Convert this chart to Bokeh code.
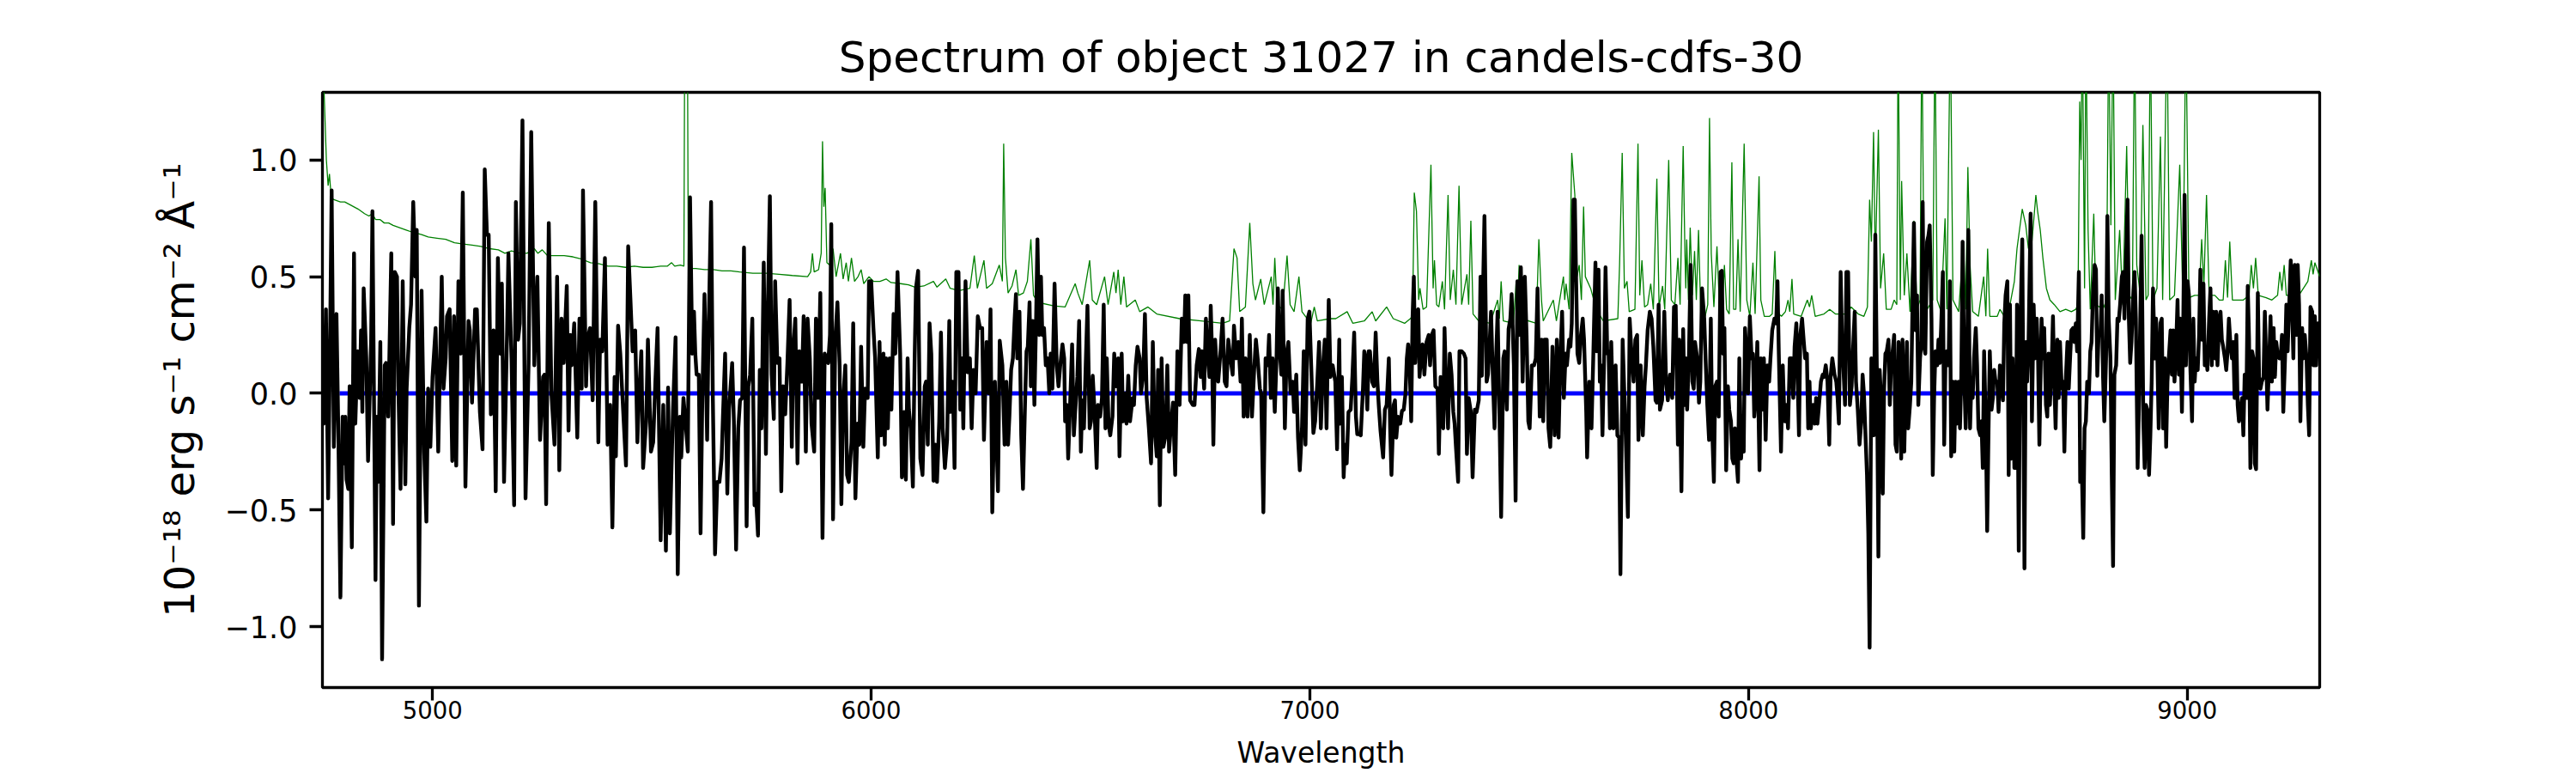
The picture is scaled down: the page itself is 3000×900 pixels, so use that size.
from bokeh.plotting import figure
from bokeh.models import Range1d, FixedTicker, CustomJSTickFormatter
from bokeh.embed import file_html
from bokeh.resources import INLINE

# ---------------- data ----------------
TITLE = "Spectrum of object 31027 in candels-cdfs-30"
X_LABEL = "Wavelength"
Y_LABEL = "10\u207b\u00b9\u2078 erg s\u207b\u00b9 cm\u207b\u00b2 \u00c5\u207b\u00b9"
x_ticks = [5000, 6000, 7000, 8000, 9000]
y_ticks = [-1.0, -0.5, 0.0, 0.5, 1.0]
wave_min, wave_max = 4749, 9302
flux_min, flux_max = -1.261, 1.290

# observed flux (black)
wave = [
    4749,4752,4757,4762,4766,4770,4775,4781,4785,4790,
    4795,4798,4801,4804,4808,4811,4816,4821,4824,4829,
    4834,4837,4840,4843,4849,4853,4860,4863,4870,4873,
    4876,4881,4885,4891,4894,4899,4906,4910,4914,4919,
    4922,4927,4932,4938,4941,4947,4951,4956,4961,4964,
    4969,4975,4981,4986,4990,4995,5000,5007,5013,5021,
    5025,5030,5033,5039,5045,5049,5054,5059,5064,5069,
    5075,5082,5085,5090,5097,5101,5108,5114,5119,5124,
    5128,5133,5139,5144,5149,5154,5158,5163,5170,5173,
    5180,5186,5190,5195,5199,5205,5212,5219,5225,5232,
    5239,5245,5252,5255,5259,5265,5271,5278,5284,5289,
    5294,5299,5306,5310,5314,5317,5323,5330,5335,5340,
    5343,5350,5353,5359,5365,5371,5378,5382,5387,5393,
    5399,5405,5410,5415,5418,5423,5428,5432,5441,5446,
    5451,5456,5462,5467,5470,5476,5480,5487,5491,5498,
    5503,5508,5513,5520,
    5526,5532,5537,5541,5548,5554,5559,5564,5567,5572,
    5577,5582,5587,5592,5596,5599,5602,5607,5611,5615,
    5620,5626,5629,5635,5639,5644,5649,5654,5659,5662,
    5667,5672,5676,5683,5687,5692,5697,5701,5706,5710,
    5716,5720,5724,5729,5734,5737,5742,5746,5750,5755,
    5760,5763,5769,5773,5778,5781,5786,5791,5795,5799,
    5804,5809,5814,5819,5822,5827,5832,5836,5842,5846,
    5851,5855,5860,5864,5870,5874,5879,5884,5889,5894,
    5898,5902,5906,5909,5913,5918,5923,5928,5932,5936,
    5941,5945,5949,5955,5959,5964,5969,5973,5977,5982,
    5986,5992,5995,6000,6005,6009,6015,6019,6023,6028,
    6031,6034,6038,6042,6046,6051,6055,6060,6066,6070,
    6075,6079,6083,6086,6090,6095,6099,6102,6107,6112,
    6117,6122,6125,6129,6133,6137,6142,6146,6150,6155,
    6159,6163,6168,6173,6178,6181,6186,6190,6194,6199,
    6203,6207,6210,6215,6220,6225,6229,6233,6238,6243,
    6248,6253,6257,6263,6268,6272,6276,6282,6289,6293,
    6299,6304,6308,6312,6315,6319,6323,6327,6330,6333,
    6338,6342,6346,6351,6354,6357,6361,6364,6368,6372,
    6376,6379,6383,6387,6390,6394,6398,6402,6406,6409,
    6413,6418,6423,6427,6431,6436,6440,6442,6446,6449,
    6453,6458,6462,6465,6470,6474,6478,6481,6485,6489,
    6493,6498,6501,6505,6509,6514,6517,6522,6526,6530,
    6534,6537,6541,6545,6550,6554,6558,6563,6566,6571,
    6574,6579,6582,6586,6590,6596,6599,6603,6607,6612,
    6615,6620,6624,6628,6633,6638,6642,6646,6651,6654,
    6658,6662,6666,6671,6675,6679,6684,6688,6693,6698,
    6703,6708,6713,6716,6720,6723,6727,6733,6737,6742,
    6747,6751,6754,6759,6763,6767,6771,6774,6777,6780,
    6784,6788,6791,6796,6801,6806,6810,6814,6819,6824,
    6827,6832,6837,6842,6845,6849,6853,6858,6863,6868,
    6873,6877,6881,6886,6889,6894,6899,6904,6907,6911,
    6915,6920,6924,6927,6930,6935,6938,6943,6947,6951,
    6956,6961,6964,6969,6973,6977,6982,6986,6990,6995,
    6999,7003,7008,7012,7017,7021,7025,7030,7034,7038,
    7043,7047,7052,7058,7062,7067,
    7069,7073,7077,7080,7084,7088,7093,7097,7101,7105,
    7108,7112,7116,7121,7124,7127,7131,7134,7137,7142,
    7146,7150,7154,7157,7161,7167,7171,7175,7180,7183,
    7186,7191,7194,7197,7201,7206,7210,7214,7218,7221,
    7224,7227,7231,7234,7237,7240,7244,7247,7250,7253,
    7257,7261,7266,7271,7274,7278,7282,7286,7291,7294,
    7298,7304,7307,7310,7315,7319,7323,7327,7330,7333,
    7338,7341,7346,7351,7355,7358,7362,7367,7371,7376,
    7380,7385,7389,7392,7395,7398,7403,7406,7409,7413,
    7417,7421,7424,7428,7432,7436,7441,7444,7449,7453,
    7457,7460,7465,7469,7473,7477,7481,7485,7490,7494,
    7498,7501,7506,7511,7515,7519,7524,7528,7532,7535,
    7540,7544,7548,7553,7558,7563,7567,7571,7575,7579,
    7583,7586,7591,7594,7597,7601,7604,7607,7610,7614,
    7618,7622,7625,7630,7632,7637,7642,7646,7651,7654,
    7658,7661,7664,7667,7671,7674,7678,7681,7684,7687,
    7692,7697,7701,7705,7708,7713,7716,7720,7725,7729,
    7733,7738,7742,7746,7749,7754,7759,7763,7766,7770,
    7775,7779,7783,7788,7791,7795,7798,7803,7808,7812,
    7816,7821,7826,7830,7834,7839,
    7842,7847,7851,7854,7857,7860,7864,7868,7872,7875,
    7878,7883,7887,7890,7894,7899,7902,7906,7910,7914,
    7917,7921,7924,7928,7932,7936,7939,7942,7945,7949,
    7953,7956,7960,7963,7966,7969,7973,7976,7979,7983,
    7986,7989,7992,7996,7999,8003,8007,8010,8013,8016,
    8020,8025,8028,8031,8035,8039,8043,8047,8050,8054,
    8059,8063,8066,8069,8074,8078,8082,8087,8090,8094,
    8098,8102,8105,8109,8112,8115,8118,8122,8126,8129,
    8133,8136,8139,8142,8147,8151,8154,8157,8162,8165,
    8169,8172,8176,8180,8184,8187,8191,8196,8200,8203,
    8206,8210,8213,8216,8220,8223,8227,8231,8235,8238,
    8242,8245,8249,8253,8257,8260,8263,8266,8270,8273,
    8276,8280,8283,8286,8289,8293,8296,8299,8302,8306,
    8309,8312,8315,8319,8322,8325,8328,8332,8335,8338,
    8342,8345,8348,8351,8355,8358,8361,8364,8368,8371,
    8374,8377,8381,8384,8387,8391,8394,8397,8400,8403,
    8407,8410,8413,8417,8420,8423,8426,8430,8433,8436,
    8439,8443,8446,8449,8452,8456,8459,8462,8466,8469,
    8472,8475,8479,8482,8485,8488,8492,8495,8498,8501,
    8505,8508,8511,8514,8518,8521,8524,8528,8531,8534,
    8537,8541,8544,8547,8550,8554,8557,8560,8563,8567,
    8570,8573,8577,8580,8583,8586,8590,8593,8596,8599,
    8602,8606,8609,
    8612,8616,8619,8624,8629,8632,8635,8638,8643,8646,8650,
    8653,8657,8660,8663,8668,8671,8674,8678,8681,8684,
    8687,8691,8694,8697,8700,8704,8707,8710,8714,8717,
    8720,8723,8727,8730,8733,8736,8740,8743,8746,8749,
    8753,8756,8759,8763,8766,8769,8772,8776,8779,8782,
    8785,8789,8792,8795,8798,8802,8805,8808,8811,8815,
    8818,8821,8825,8828,8831,8834,8838,8841,8844,8847,
    8851,8854,8857,8860,8864,8867,8870,8873,8877,8880,
    8883,8887,8890,8893,8896,8900,8903,8906,8909,8913,
    8916,8919,8922,8926,8929,8932,8935,8939,8942,8945,
    8949,8952,8955,8958,8962,8965,8968,8971,8975,8978,
    8981,8984,8988,8991,8994,8997,9001,9004,9007,9011,
    9014,9017,9020,9024,9027,9030,9033,9037,9040,9043,
    9046,9050,9053,9056,9059,9063,9066,9069,9073,9076,
    9079,9082,9086,9089,9092,9095,9099,9102,9105,9108,
    9112,9115,9118,9121,9125,9128,9131,9135,9138,9141,
    9144,9148,9151,9154,9157,9161,9164,9167,9170,9174,
    9177,9180,9183,9187,9190,9193,9197,9200,9203,9206,
    9210,9213,9216,9219,9223,9226,9229,9232,9236,9239,
    9242,9245,9249,9252,9255,9258,9262,9265,9268,9272,
    9275,9278,9281,9285,9288,9291,9294,9298,9302,
]
flux = [
    0.05,-0.13,0.36,-0.45,0.15,0.87,-0.23,0.34,-0.13,-0.875,
    -0.10,-0.30,-0.10,-0.37,-0.41,0.03,-0.66,0.60,-0.13,0.18,
    -0.02,0.27,-0.08,0.45,0.15,-0.29,0.22,0.78,-0.80,-0.10,
    -0.38,0.22,-1.14,0.12,0.13,-0.10,0.60,-0.56,0.52,0.50,
    0.03,-0.41,0.48,-0.39,0.02,0.28,0.38,0.82,0.50,0.70,
    -0.91,0.44,-0.25,-0.55,0.02,-0.23,0.07,0.28,-0.25,0.50,
    0.02,0.15,0.33,0.36,-0.29,0.33,-0.31,0.48,0.17,0.86,
    -0.40,0.31,0.27,-0.04,0.36,0.36,-0.08,-0.24,0.96,0.68,
    0.68,-0.09,0.27,-0.42,0.58,0.17,0.47,-0.38,0.27,0.60,
    0.15,-0.48,0.82,0.23,0.30,1.17,-0.45,0.13,1.12,0.12,
    0.50,-0.20,0.07,0.08,-0.475,0.73,0.0,-0.22,0.50,-0.33,
    0.32,0.13,0.46,-0.16,0.25,0.12,0.30,-0.19,0.32,0.02,
    0.87,0.03,0.23,0.28,-0.03,0.82,-0.21,0.23,0.18,0.58,
    -0.22,-0.05,-0.575,0.07,-0.27,0.29,0.17,0.02,-0.31,0.63,
    0.41,0.18,0.27,-0.21,-0.04,0.18,-0.32,-0.12,0.23,-0.25,
    -0.21,0.05,0.28,-0.63,
    -0.05,-0.675,0.025,-0.60,-0.08,0.24,-0.775,-0.10,-0.275,-0.02,
    -0.13,-0.25,0.84,0.17,0.35,0.17,0.08,0.08,-0.60,-0.02,
    0.425,-0.20,0.23,0.82,-0.02,-0.69,-0.38,-0.38,-0.28,-0.10,
    0.17,-0.43,-0.07,0.13,-0.12,-0.67,-0.15,-0.03,-0.02,0.625,
    -0.57,0.03,0.08,0.32,-0.48,-0.43,-0.61,0.10,-0.15,0.56,
    -0.26,0.22,0.845,0.08,-0.11,0.48,0.13,0.15,-0.42,0.03,
    -0.09,0.13,0.40,-0.23,0.18,0.32,-0.30,0.18,0.05,0.33,
    -0.25,0.32,0.15,-0.13,-0.25,0.32,-0.02,0.43,-0.62,0.17,
    0.15,0.13,0.25,0.725,-0.54,0.23,0.39,0.12,-0.475,-0.03,
    0.12,-0.35,-0.38,-0.21,0.30,-0.45,-0.13,-0.22,0.20,-0.23,
    0.02,-0.02,0.48,0.48,0.28,0.15,-0.275,0.22,-0.18,0.17,
    -0.22,0.15,-0.15,0.15,-0.07,0.34,0.17,0.52,0.17,-0.36,
    -0.08,-0.37,0.15,-0.07,-0.15,-0.40,0.15,0.45,0.525,-0.28,
    -0.35,0.03,0.05,-0.22,0.30,0.17,-0.375,-0.22,-0.38,-0.12,
    0.26,-0.15,-0.32,-0.20,0.31,-0.08,0.05,-0.32,0.52,0.52,
    -0.07,0.15,-0.15,0.48,0.09,0.15,-0.15,0.10,0.0,0.33,
    0.28,0.28,-0.20,0.22,0.0,0.36,-0.51,0.05,-0.42,0.225,
    0.12,-0.22,0.05,-0.22,-0.10,0.10,0.15,0.32,0.425,0.15,
    0.35,-0.18,-0.41,-0.02,0.18,0.20,0.39,0.03,0.31,-0.05,
    0.33,0.66,0.25,0.50,0.25,0.28,0.12,0.15,0.0,0.17,
    0.02,0.47,0.12,0.03,0.12,0.21,0.15,-0.12,-0.05,-0.28,
    -0.07,0.21,-0.18,-0.08,0.07,0.31,-0.25,-0.03,-0.15,0.12,
    0.375,-0.15,-0.12,0.075,-0.07,-0.32,-0.05,-0.10,-0.02,0.38,
    -0.15,0.15,-0.13,-0.18,-0.10,0.17,0.03,0.15,-0.27,0.17,
    -0.12,0.0,-0.13,0.075,-0.12,-0.02,-0.05,0.12,0.20,0.15,
    0.0,0.08,0.34,-0.02,-0.15,-0.30,0.22,-0.15,-0.27,0.10,
    -0.48,0.15,-0.23,-0.18,0.12,-0.25,-0.12,-0.04,-0.35,0.18,
    -0.05,0.32,0.22,0.42,0.22,0.42,-0.03,-0.05,-0.05,0.12,
    0.19,0.07,0.18,0.02,0.32,0.17,0.07,0.375,0.17,-0.22,
    0.23,0.10,0.05,0.17,0.32,0.05,0.03,0.23,0.15,0.08,
    0.29,0.15,0.22,0.05,0.32,-0.10,0.15,-0.10,0.25,-0.10,
    0.10,0.23,0.15,0.02,0.0,-0.51,0.15,0.12,0.25,-0.02,
    0.15,-0.08,0.15,0.45,0.22,0.08,0.44,-0.15,0.17,0.22,
    0.0,0.05,-0.08,0.08,-0.19,-0.33,-0.15,0.18,-0.22,0.32,
    0.35,0.12,-0.17,-0.12,0.05,0.22,-0.15,0.12,0.23,-0.15,
    0.40,0.07,0.12,0.05,-0.24,0.23,
    -0.13,0.07,-0.36,-0.22,-0.30,-0.08,-0.07,0.075,0.26,-0.10,
    -0.175,-0.175,-0.18,0.02,0.18,0.15,-0.07,0.18,0.18,0.05,
    0.03,0.26,0.05,-0.05,-0.16,-0.275,-0.07,-0.05,0.15,-0.15,
    -0.35,-0.05,-0.03,-0.19,-0.10,-0.13,-0.075,-0.07,0.0,0.15,
    0.21,0.15,-0.12,0.32,0.50,0.13,0.35,0.36,0.07,0.15,
    0.21,0.08,0.22,0.25,0.12,0.25,0.27,0.03,0.02,-0.26,
    0.07,-0.15,0.28,0.08,-0.15,0.17,0.08,-0.08,-0.13,-0.23,
    -0.38,0.18,0.18,0.17,0.15,-0.26,-0.02,-0.08,-0.36,-0.07,
    -0.08,-0.03,0.50,0.075,0.47,0.76,0.05,0.08,0.18,0.35,
    0.08,-0.15,0.12,0.35,-0.07,-0.53,0.15,0.18,-0.07,0.275,
    0.32,0.425,0.12,-0.46,0.48,0.25,0.54,0.05,0.50,0.25,
    -0.12,-0.15,0.12,0.12,0.15,0.45,-0.10,0.23,-0.12,0.23,
    0.23,-0.15,-0.23,0.20,-0.18,0.23,-0.19,0.15,0.35,-0.02,
    0.17,0.12,0.23,0.20,0.30,0.83,0.83,0.48,0.17,0.13,
    0.25,0.32,0.23,-0.08,-0.275,0.05,-0.15,0.15,0.56,0.18,
    0.53,0.05,0.12,-0.18,0.17,0.54,0.17,0.18,-0.15,0.22,
    -0.15,0.12,-0.18,-0.19,-0.775,0.23,0.05,-0.18,-0.53,0.32,
    0.18,0.05,0.23,0.25,-0.20,0.12,-0.18,0.03,0.12,0.27,
    0.35,0.32,0.20,-0.03,-0.04,0.38,-0.07,-0.03,0.35,0.05,
    -0.03,0.08,-0.02,0.37,0.375,-0.22,
    0.23,-0.42,0.275,-0.05,0.15,-0.07,0.15,0.55,0.05,0.02,
    0.22,0.15,-0.04,0.05,0.45,0.32,0.15,-0.05,-0.20,0.32,
    -0.15,-0.38,0.03,0.05,-0.10,0.52,0.525,0.17,0.28,-0.33,
    0.03,-0.07,-0.12,-0.28,-0.30,-0.15,-0.30,-0.38,0.15,-0.28,
    -0.17,-0.25,0.28,0.15,0.0,0.33,0.15,0.17,-0.10,-0.02,
    0.22,-0.33,0.15,-0.07,0.15,-0.20,0.12,0.05,0.15,0.27,
    0.32,0.30,0.48,0.17,-0.25,0.12,-0.12,-0.05,-0.15,0.15,
    0.15,-0.02,0.20,0.30,0.05,-0.18,0.25,0.32,0.22,0.15,
    0.17,-0.15,0.05,-0.15,-0.05,-0.13,-0.02,-0.13,-0.02,0.05,
    0.08,0.07,0.12,0.05,-0.22,0.07,0.15,0.08,0.05,-0.02,
    -0.13,0.52,0.25,0.12,-0.05,0.52,0.52,-0.05,0.03,0.18,
    0.35,0.05,-0.07,-0.22,-0.12,0.08,0.0,-0.15,-0.35,-0.60,
    -1.09,0.15,-0.05,-0.18,0.68,0.02,-0.70,0.10,-0.02,-0.43,
    0.02,0.17,0.18,0.23,-0.05,0.12,0.17,0.25,-0.22,-0.25,
    0.22,0.10,-0.28,0.23,-0.25,0.02,0.22,-0.15,-0.05,0.05,
    0.40,0.73,0.27,0.42,-0.05,0.15,0.22,0.82,0.20,0.17,
    0.65,0.675,0.72,0.32,-0.35,-0.02,0.18,0.12,0.23,0.13,
    0.28,0.52,-0.22,0.15,0.18,0.12,0.48,-0.27,0.05,-0.25,
    0.05,-0.13,0.05,-0.15,0.07,0.65,0.05,-0.15,0.05,0.70,
    -0.15,0.05,-0.02,0.15,0.28,0.12,-0.15,-0.18,-0.12,-0.32,
    0.18,-0.15,-0.59,-0.17,0.18,-0.07,-0.02,0.10,0.05,0.05,
    -0.08,0.12,0.05,-0.03,0.30,0.42,0.48,-0.35,0.38,-0.28,
    0.15,-0.32,-0.32,
    0.38,-0.675,0.22,0.66,-0.75,0.22,0.05,0.18,0.77,-0.12,0.38,
    0.15,0.32,0.15,-0.22,0.32,0.15,0.28,-0.05,-0.10,0.17,
    -0.05,0.12,0.33,0.05,-0.15,0.23,-0.02,0.22,0.02,0.05,
    -0.25,0.05,0.22,0.02,0.15,0.27,0.28,0.22,0.30,0.18,
    0.52,-0.38,-0.25,-0.62,-0.15,-0.12,0.05,0.0,0.18,0.22,
    0.42,0.55,0.53,0.075,0.25,0.25,0.42,0.08,-0.12,0.15,
    0.76,0.32,0.15,-0.35,-0.74,0.08,0.12,0.32,0.31,0.38,
    0.50,0.52,0.32,0.525,0.83,0.32,0.13,0.22,0.42,0.52,
    0.32,-0.32,-0.05,0.32,0.675,-0.12,-0.32,-0.05,-0.07,-0.35,
    -0.18,0.05,0.45,0.15,0.32,0.15,-0.15,0.30,0.32,-0.15,
    0.15,-0.23,0.05,0.15,0.27,0.08,0.27,0.05,0.22,0.40,
    0.08,0.32,-0.08,0.30,0.85,0.12,0.48,0.42,0.12,-0.12,
    0.32,0.05,0.15,0.10,0.25,0.53,0.23,0.47,0.12,0.17,
    0.10,0.32,0.45,0.12,0.35,0.15,0.35,0.12,0.32,0.35,
    0.23,0.20,0.15,0.10,0.18,0.32,0.20,0.15,0.22,-0.02,
    0.25,-0.05,-0.12,-0.07,-0.02,-0.18,0.08,-0.02,0.46,0.23,
    -0.32,0.18,0.15,-0.30,-0.325,0.43,0.05,0.02,0.05,0.07,
    0.35,0.15,-0.07,0.15,0.33,0.05,0.28,0.07,0.22,0.17,
    0.15,0.15,0.25,-0.08,0.15,0.38,0.18,0.35,0.57,0.38,
    0.15,0.55,0.25,0.55,0.38,-0.12,0.28,0.15,0.25,0.15,
    -0.05,-0.18,0.37,0.35,0.12,0.33,0.12,0.30,0.25,
]

# noise / sky spectrum (green)
noise_wave = [
    4749,4753,4758,4762,4765,4769,4775,4790,4800,4810,4820,4830,4845,4855,
    4863,4870,4880,4890,4900,4910,4925,4940,4955,4975,4990,5010,5030,5050,
    5070,5090,5110,5130,5150,5165,5180,5200,5215,5225,5232,5240,5250,5262,
    5280,5300,5320,5340,5360,5380,5400,5420,5440,5460,5480,5500,5520,5535,
    5545,5552,5565,5573,5575,5581,5583,5590,5600,5620,5640,5660,5680,5700,
    5730,5760,5790,5820,5855,5862,5866,5870,5880,5886,5889,5892,5895,5899,
    5905,5913,5920,5930,5936,5943,5948,5955,5962,5970,5977,5983,5995,6005,
    6020,6034,6045,6067,6085,6100,6120,6142,6150,6170,6180,6200,6225,6235,
    6242,6257,6263,6276,6292,6299,6302,6306,6312,6321,6330,6336,6347,6356,
    6364,6370,6380,6416,6442,6465,6471,6481,6498,6504,6514,6532,6540,6553,
    6558,6563,6569,6576,6582,6602,6612,6631,6651,6703,6752,6801,6817,6827,
    6834,6840,6853,6863,6870,6876,6888,6896,6912,6916,6920,6925,6938,6948,
    6955,6964,6975,6982,6990,7002,7010,7017,7046,7059,7085,7098,7124,7142,
    7150,7175,7190,7216,7229,7234,7238,7243,7248,7251,7258,7266,7276,7281,
    7284,7289,7294,7302,7307,7315,7320,7327,7333,7340,7346,7358,7362,7367,
    7372,7385,7411,7428,7432,7436,7441,7464,7470,7473,7477,7482,7516,7522,
    7528,7532,7555,7562,7578,7581,7584,7591,7597,7604,7609,7614,7619,7624,
    7628,7640,7653,7669,7702,7706,7712,7717,7723,7728,7741,7748,7752,7757,
    7763,7770,7777,7783,7791,7796,7804,7809,7818,7824,7832,7839,7844,7851,
    7855,7857,7859,7863,7867,7872,7877,7881,7886,7891,7901,7907,7911,7915,
    7921,7928,7934,7940,7945,7950,7956,7962,7966,7971,7976,7981,7990,7996,
    8003,8010,8015,8024,8028,8036,8048,8054,8060,8064,8075,8084,8090,8094,
    8099,8103,8120,8134,8139,8144,8152,8172,8185,8198,8224,8234,8250,8263,
    8271,8276,8280,8285,8289,8296,8301,8308,8314,8325,8332,8338,8341,8346,
    8349,8355,8361,8368,8377,8384,8391,8395,8400,8407,8420,8425,8430,8439,
    8448,8452,8460,8466,8479,8490,8495,8500,8505,8511,8524,8536,8541,8545,
    8550,8567,8573,8583,8596,8606,8612,8624,8632,8638,8646,8655,8659,8665,
    8671,8679,8687,8697,8710,8723,8736,8746,8751,8755,8758,8761,8766,8769,
    8774,8779,8787,8792,8808,8816,8821,8826,8831,8836,8846,8853,8862,8868,
    8875,8880,8885,8893,8899,8906,8911,8916,8922,8931,8939,8944,8954,8960,
    8971,8983,8990,8997,9004,9017,9027,9033,9038,9044,9050,9063,9073,9082,
    9087,9092,9097,9103,9128,9141,9146,9151,9156,9162,9180,9193,9206,9211,
    9216,9221,9226,9242,9258,9275,9283,9287,9291,9302,
]
noise_flux = [
    1.6,1.28,1.0,0.89,0.94,0.84,0.83,0.82,0.82,0.81,0.80,0.79,0.77,0.76,
    0.77,0.745,0.745,0.73,0.73,0.72,0.71,0.70,0.69,0.68,0.67,0.665,0.66,0.645,
    0.64,0.635,0.63,0.62,0.615,0.60,0.61,0.60,0.60,0.61,0.62,0.60,0.615,0.59,
    0.59,0.59,0.585,0.575,0.56,0.555,0.545,0.545,0.54,0.545,0.54,0.54,0.545,0.545,
    0.56,0.545,0.55,0.545,1.6,1.6,0.55,0.535,0.535,0.53,0.53,0.525,0.525,0.52,
    0.515,0.515,0.51,0.505,0.50,0.52,0.60,0.52,0.53,0.60,1.08,0.80,0.88,0.56,
    0.55,0.62,0.50,0.60,0.49,0.56,0.48,0.58,0.48,0.50,0.53,0.47,0.50,0.48,
    0.48,0.49,0.475,0.47,0.465,0.455,0.46,0.48,0.455,0.49,0.45,0.44,0.45,0.59,
    0.45,0.57,0.45,0.47,0.55,0.48,1.07,0.58,0.43,0.46,0.53,0.42,0.43,0.48,
    0.66,0.42,0.39,0.375,0.37,0.47,0.43,0.38,0.57,0.40,0.38,0.50,0.38,0.52,
    0.43,0.53,0.38,0.50,0.37,0.40,0.35,0.37,0.34,0.32,0.31,0.30,0.31,0.62,
    0.58,0.35,0.37,0.73,0.47,0.40,0.49,0.38,0.50,0.38,0.58,0.38,0.36,0.59,
    0.38,0.35,0.50,0.35,0.33,0.30,0.37,0.31,0.32,0.32,0.35,0.30,0.31,0.35,
    0.31,0.37,0.32,0.30,0.32,0.33,0.86,0.78,0.40,0.45,0.36,0.37,0.98,0.45,
    0.57,0.38,0.37,0.48,0.36,0.85,0.40,0.53,0.38,0.89,0.38,0.51,0.38,0.74,
    0.34,0.31,0.30,0.40,0.32,0.48,0.31,0.30,0.47,0.35,0.55,0.32,0.30,0.66,
    0.40,0.31,0.40,0.31,0.50,0.40,0.47,0.36,1.03,0.85,0.50,0.55,0.40,0.80,
    0.50,0.45,0.36,0.31,0.32,0.55,1.03,0.45,0.48,0.35,0.36,1.07,0.42,0.57,
    0.37,0.38,0.47,0.36,0.92,0.37,0.46,0.36,1.00,0.40,0.38,0.58,0.38,1.06,
    0.60,0.45,0.66,0.40,0.71,0.42,0.61,0.40,0.70,0.35,0.33,0.38,1.18,0.60,
    0.37,0.63,0.36,0.36,0.55,0.36,0.34,0.99,0.36,0.36,0.66,0.35,1.07,0.40,
    0.33,0.56,0.34,0.93,0.40,0.33,0.33,0.34,0.61,0.35,0.33,0.35,0.40,0.35,
    0.49,0.34,0.33,0.40,0.37,0.42,0.33,0.34,0.36,0.34,0.34,0.37,0.34,0.33,
    0.37,0.83,0.65,1.12,0.55,1.13,0.45,0.60,0.36,0.36,0.40,0.38,1.6,0.40,
    0.91,0.42,0.60,0.35,0.74,0.36,0.40,1.6,0.50,0.36,0.40,1.6,0.40,0.35,
    0.75,0.36,1.6,0.40,0.35,0.65,0.36,0.97,0.55,0.35,0.33,0.50,0.33,0.62,
    0.33,0.33,0.36,0.33,0.38,0.48,0.62,0.79,0.72,0.62,0.65,0.85,0.78,0.70,
    0.58,0.45,0.40,0.38,0.35,0.36,0.35,0.36,0.38,1.25,1.0,1.6,0.45,1.6,
    0.70,0.36,0.77,0.38,0.36,0.40,1.6,0.72,1.6,0.40,0.70,0.38,1.06,0.42,
    0.40,1.6,0.55,0.42,1.15,0.40,0.42,1.6,0.40,0.45,1.1,0.40,1.6,0.40,
    0.42,0.98,0.40,1.6,0.41,0.42,0.42,0.66,0.46,0.85,0.42,0.42,0.40,0.40,
    0.57,0.41,0.65,0.40,0.40,0.42,0.55,0.45,0.58,0.42,0.41,0.40,0.42,0.52,
    0.44,0.55,0.42,0.42,0.43,0.48,0.57,0.51,0.56,0.50,
]

# continuum model (blue)
model_wave = [4788, wave_max]
model_flux = [0.0, 0.0]

assert len(wave) == len(flux), (len(wave), len(flux))
assert len(noise_wave) == len(noise_flux), (len(noise_wave), len(noise_flux))

# ---------------- figure ----------------
FONT = "DejaVu Sans"
p = figure(
    frame_width=2326, frame_height=693,
    min_border_left=375, min_border_top=107, min_border_right=291, min_border_bottom=100,
    x_range=Range1d(wave_min, wave_max), y_range=Range1d(flux_min, flux_max),
    output_backend="svg", toolbar_location=None, title=TITLE,
    background_fill_color="white", border_fill_color="white",
)
p.title.text_font = FONT
p.title.text_font_size = "50px"
p.title.text_font_style = "normal"
p.title.text_color = "black"
p.title.align = "center"
p.title.standoff = 24

p.xgrid.visible = False
p.ygrid.visible = False
p.outline_line_color = "black"
p.outline_line_width = 3.3
p.outline_line_alpha = 1.0

p.line(noise_wave, noise_flux, line_color="#008000", line_width=1.3)
p.line(model_wave, model_flux, line_color="#0000ff", line_width=5)
p.line(wave, flux, line_color="black", line_width=4.4, line_join="round")

for ax in (p.xaxis[0], p.yaxis[0]):
    ax.axis_line_color = None
    ax.major_tick_line_color = "black"
    ax.major_tick_line_width = 3.3
    ax.major_tick_out = 15
    ax.major_tick_in = 0
    ax.minor_tick_line_color = None
    ax.major_label_text_font = FONT
    ax.major_label_text_color = "black"
    ax.axis_label_text_font = FONT
    ax.axis_label_text_font_style = "normal"
    ax.axis_label_text_color = "black"

p.xaxis.ticker = FixedTicker(ticks=x_ticks)
p.xaxis.formatter = CustomJSTickFormatter(code="return tick.toFixed(0);")
p.xaxis.major_label_text_font_size = "27.5px"
p.xaxis.major_label_standoff = 0
p.xaxis.axis_label = X_LABEL
p.xaxis.axis_label_text_font_size = "33px"
p.xaxis.axis_label_standoff = 17

p.yaxis.ticker = FixedTicker(ticks=y_ticks)
p.yaxis.formatter = CustomJSTickFormatter(code="return tick.toFixed(1).replace('-', '\u2212');")
p.yaxis.major_label_text_font_size = "35px"
p.yaxis.major_label_standoff = 14
p.yaxis.axis_label = Y_LABEL
p.yaxis.axis_label_text_font_size = "48px"
p.yaxis.axis_label_standoff = 22

open("out.html", "w").write(file_html(p, INLINE))
